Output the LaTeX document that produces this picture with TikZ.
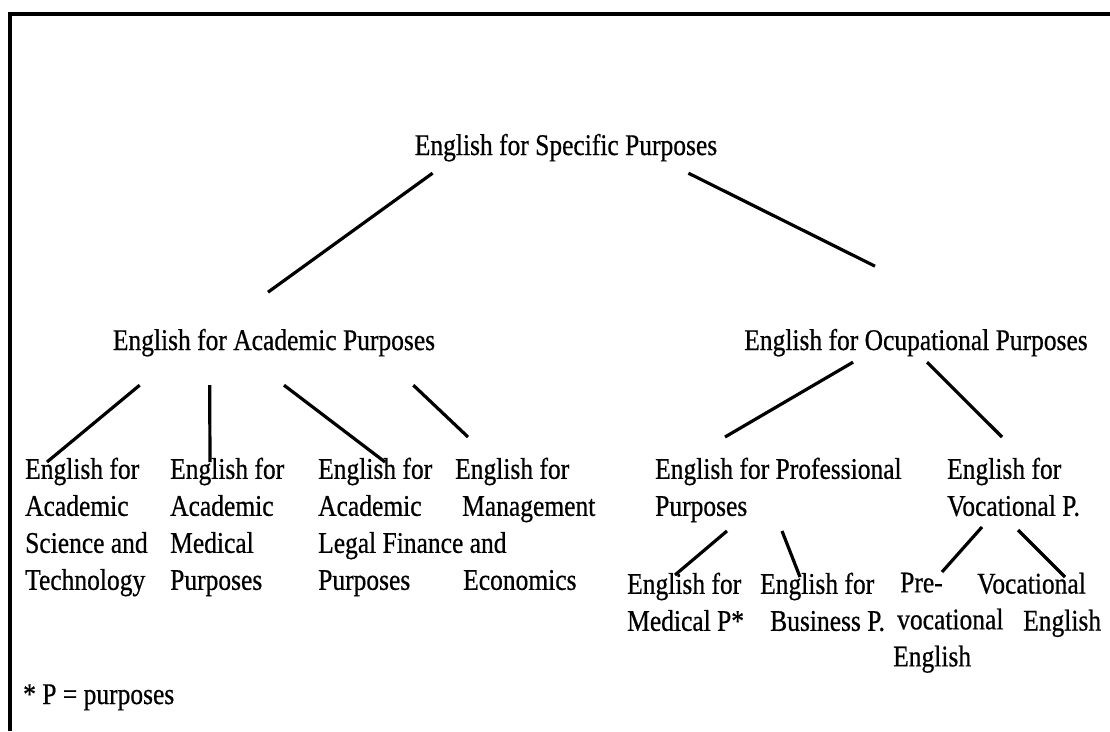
\documentclass[tikz,border=0pt]{standalone}
\usepackage{fontspec}
\setmainfont{Liberation Serif}[FakeStretch=0.85, FakeBold=0.6]
\usepackage{tikz}

\begin{document}
\begin{tikzpicture}[
  x=1pt, y=-1pt,
  lbl/.style={
    inner sep=0pt, align=left,
    font=\fontsize{30}{37}\selectfont
  },
  branch/.style={line width=3.2pt},
  frame/.style={line width=4pt},
]
  \useasboundingbox (0,0) rectangle (1110,731);
  \draw[frame] (10,731) -- (10,13.5) -- (1110,13.5);

  % top and second level
  \node[lbl, anchor=base] (esp) at (566,155) {English for Specific Purposes};
  \node[lbl, anchor=base] (eap) at (274,350) {English for Academic Purposes};
  \node[lbl, anchor=base] (eop) at (916,350) {English for Ocupational Purposes};

  % academic branches
  \node[lbl, anchor=north west] (sci) at (25,457.5)  {English for\\Academic\\Science and\\Technology};
  \node[lbl, anchor=north west] (med) at (170,457.5) {English for\\Academic\\Medical\\Purposes};
  \node[lbl, anchor=north west] (leg) at (318,457.5) {English for\\Academic\\Legal Finance and\\Purposes};
  \node[lbl, anchor=north west] (man) at (455,457.5) {English for\\\hspace*{7pt}Management\\[37pt]\hspace*{8pt}Economics};

  % occupational branches
  \node[lbl, anchor=north west] (epp) at (655,457.5) {English for Professional\\Purposes};
  \node[lbl, anchor=north west] (evp) at (947,457.5) {English for\\Vocational P.};
  \node[lbl, anchor=north west] (epp-med) at (627,572.5) {English for\\Medical P*};
  \node[lbl, anchor=north west] (epp-bus) at (760,572.5) {English for\\\hspace*{10pt}Business P.};
  \node[lbl, anchor=north west] (evp-pre) at (893,572.5) {\hspace*{7pt}Pre-\\\hspace*{4pt}vocational\\English};
  \node[lbl, anchor=north west] (evp-voc) at (977,572.5) {Vocational\\\hspace*{46pt}English};

  \node[lbl, anchor=base west] (note) at (23,704) {* P = purposes};

  \draw[branch] ([shift={(18,11.5)}]esp.south west) -- ([shift={(-6,-36.5)}]eap.north);
  \draw[branch] ([shift={(-29,11.5)}]esp.south east) -- ([shift={(-41,-62.5)}]eop.north);

  \draw[branch] ([shift={(27,28.5)}]eap.south west) -- ([shift={(22,4.5)}]sci.north west);
  \draw[branch] ([shift={(97,28.5)}]eap.south west) -- ([shift={(40,4.5)}]med.north west);
  \draw[branch] ([shift={(10,28.5)}]eap.south) -- ([shift={(67,4.5)}]leg.north west);
  \draw[branch] ([shift={(-22,28.5)}]eap.south east) -- ([shift={(13,-20.5)}]man.north west);

  \draw[branch] ([shift={(109,5.5)}]eop.south west) -- ([shift={(70,-20.5)}]epp.north west);
  \draw[branch] ([shift={(183,5.5)}]eop.south west) -- ([shift={(55,-20.5)}]evp.north west);

  \draw[branch] ([shift={(72,73.5)}]epp.north west) -- ([shift={(48,2.5)}]epp-med.north west);
  \draw[branch] ([shift={(127,73.5)}]epp.north west) -- ([shift={(40,4.5)}]epp-bus.north west);
  \draw[branch] ([shift={(35,69.5)}]evp.north west) -- ([shift={(49,-0.5)}]evp-pre.north west);
  \draw[branch] ([shift={(71,72.5)}]evp.north west) -- ([shift={(88,4.5)}]evp-voc.north west);
\end{tikzpicture}
\end{document}
